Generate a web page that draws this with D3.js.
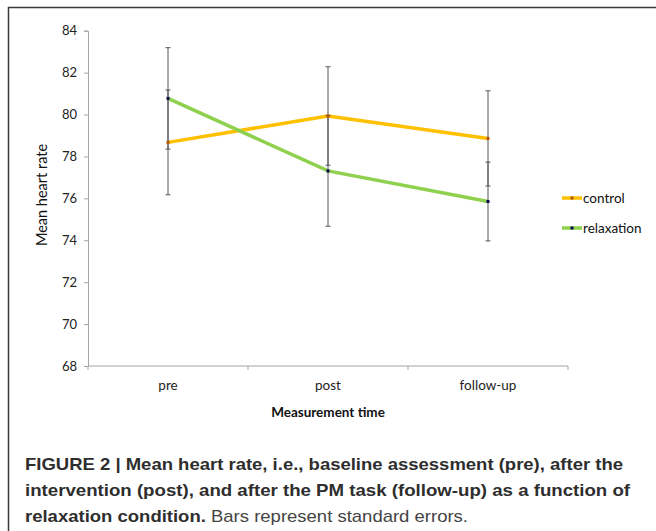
<!DOCTYPE html>
<meta charset="utf-8">
<style>
html, body { margin: 0; padding: 0; background: #fff; }
svg { display: block; }
.tick text { font-family: Lato, "Open Sans", sans-serif; }
</style>
<body>
<script src="https://cdn.jsdelivr.net/npm/d3@7"></script>
<script>
// values
var categories = ["pre", "post", "follow-up"];
var controlMean = [78.67, 79.93, 78.86];
var controlSE = [2.50, 2.35, 2.27];
var relaxMean = [80.77, 77.31, 75.85];
var relaxSE = [2.42, 2.64, 1.88];
var yTicks = [68, 70, 72, 74, 76, 78, 80, 82, 84];
var seriesNames = ["control", "relaxation"];

var W = 656, H = 531;
var svg = d3.select("body").append("svg")
  .attr("width", W)
  .attr("height", H);

// frame (top and left edges only)
svg.append("path")
  .attr("d", "M8.5," + H + "V7.5H" + W)
  .attr("fill", "none")
  .attr("stroke", "#3a3a3a")
  .attr("stroke-width", 1.5);

var x = d3.scaleBand().domain(categories).range([88, 568]);
var y = d3.scaleLinear().domain([68, 84]).range([366, 30.7]);
var cx = function(d) { return x(d) + x.bandwidth() / 2; };

var series = [
  {name: seriesNames[0], mean: controlMean, se: controlSE, color: "#FFC000", marker: "#B45A0A"},
  {name: seriesNames[1], mean: relaxMean, se: relaxSE, color: "#8FD14F", marker: "#0A0A50"}
];

// y axis
var yAxis = svg.append("g")
  .attr("transform", "translate(88,0)")
  .call(d3.axisLeft(y).tickValues(yTicks).tickSize(4).tickPadding(7));
yAxis.select(".domain").attr("stroke", "#a6a6a6");
yAxis.selectAll(".tick line").attr("stroke", "#a6a6a6");
yAxis.selectAll(".tick text").attr("font-size", 13).attr("fill", "#222");

// x axis with ticks between categories
var xAxis = svg.append("g")
  .attr("transform", "translate(0,366)");
xAxis.append("line")
  .attr("x1", 88).attr("x2", 568)
  .attr("stroke", "#a6a6a6");
xAxis.selectAll(".xt")
  .data(categories.concat(["end"]))
  .enter().append("line")
  .attr("x1", function(d, i) { return 88 + i * x.bandwidth(); })
  .attr("x2", function(d, i) { return 88 + i * x.bandwidth(); })
  .attr("y1", 0).attr("y2", 4)
  .attr("stroke", "#a6a6a6");
xAxis.selectAll(".xl")
  .data(categories)
  .enter().append("text")
  .attr("x", cx)
  .attr("y", 24)
  .attr("text-anchor", "middle")
  .attr("font-family", "Lato, 'Open Sans', sans-serif")
  .attr("font-size", 13.5)
  .attr("fill", "#222")
  .text(function(d) { return d; });

// axis titles
svg.append("text")
  .attr("transform", "translate(47,195) rotate(-90)")
  .attr("text-anchor", "middle")
  .attr("font-family", "Lato, 'Open Sans', sans-serif")
  .attr("font-size", 14.5)
  .attr("fill", "#111")
  .text("Mean heart rate");

svg.append("text")
  .attr("x", 328)
  .attr("y", 417)
  .attr("text-anchor", "middle")
  .attr("font-family", "Lato, 'Open Sans', sans-serif")
  .attr("font-weight", "bold")
  .attr("font-size", 13.5)
  .attr("fill", "#111")
  .text("Measurement time");

// lines
var line = d3.line()
  .x(function(d, i) { return cx(categories[i]); })
  .y(function(d) { return y(d); });

series.forEach(function(s) {
  svg.append("path")
    .datum(s.mean)
    .attr("d", line)
    .attr("fill", "none")
    .attr("stroke", s.color)
    .attr("stroke-width", 3.5);
});

// error bars
series.forEach(function(s) {
  var g = svg.append("g").attr("stroke", "#555").attr("stroke-width", 1);
  s.mean.forEach(function(m, i) {
    var px = cx(categories[i]);
    g.append("line")
      .attr("x1", px).attr("x2", px)
      .attr("y1", y(m - s.se[i])).attr("y2", y(m + s.se[i]));
    [m - s.se[i], m + s.se[i]].forEach(function(v) {
      g.append("line")
        .attr("x1", px - 2.5).attr("x2", px + 2.5)
        .attr("y1", y(v)).attr("y2", y(v));
    });
  });
});

// markers
series.forEach(function(s) {
  svg.selectAll(null)
    .data(s.mean)
    .enter().append("rect")
    .attr("x", function(d, i) { return cx(categories[i]) - 1.5; })
    .attr("y", function(d) { return y(d) - 1.5; })
    .attr("width", 3).attr("height", 3)
    .attr("fill", s.marker);
});

// legend
var legend = svg.append("g");
series.forEach(function(s, i) {
  var ly = 198 + i * 30;
  legend.append("line")
    .attr("x1", 562).attr("x2", 582)
    .attr("y1", ly).attr("y2", ly)
    .attr("stroke", s.color).attr("stroke-width", 3.5);
  legend.append("rect")
    .attr("x", 570.5).attr("y", ly - 1.5)
    .attr("width", 3).attr("height", 3)
    .attr("fill", s.marker);
  legend.append("text")
    .attr("x", 583).attr("y", ly + 5)
    .attr("font-family", "Lato, 'Open Sans', sans-serif")
    .attr("font-size", 13.5)
    .attr("fill", "#111")
    .text(s.name);
});

// caption
var capFont = "'Liberation Sans', Arial, sans-serif";
var cap = svg.append("g")
  .attr("font-family", capFont)
  .attr("font-size", 17)
  .attr("fill", "#2e2e2e");
cap.append("text")
  .attr("x", 25).attr("y", 470)
  .attr("font-weight", "bold")
  .attr("textLength", 598).attr("lengthAdjust", "spacingAndGlyphs")
  .text("FIGURE 2 | Mean heart rate, i.e., baseline assessment (pre), after the");
cap.append("text")
  .attr("x", 25).attr("y", 496)
  .attr("font-weight", "bold")
  .attr("textLength", 605).attr("lengthAdjust", "spacingAndGlyphs")
  .text("intervention (post), and after the PM task (follow-up) as a function of");
var t3 = cap.append("text")
  .attr("x", 25).attr("y", 522)
  .attr("textLength", 443).attr("lengthAdjust", "spacingAndGlyphs");
t3.append("tspan").attr("font-weight", "bold").text("relaxation condition.");
t3.append("tspan").attr("fill", "#444").text(" Bars represent standard errors.");
</script>
</body>
